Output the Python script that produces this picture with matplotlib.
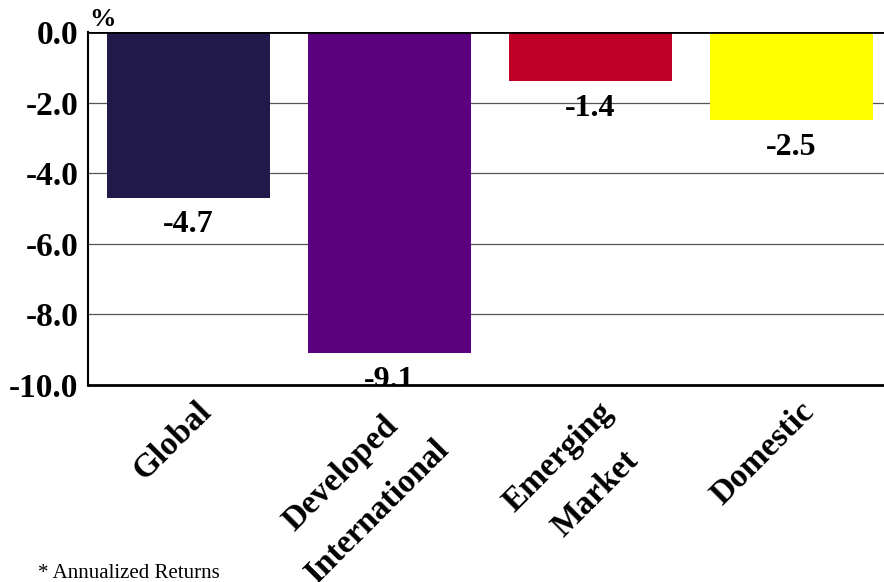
import matplotlib.pyplot as plt
from matplotlib.transforms import offset_copy

# Data
categories = ["Global", "Developed\nInternational", "Emerging\nMarket", "Domestic"]
returns = [-4.7, -9.1, -1.4, -2.5]
bar_colors = ["#21194a", "#5b007f", "#be0026", "#ffff00"]
y_ticks = [0.0, -2.0, -4.0, -6.0, -8.0, -10.0]

plt.rcParams['font.family'] = ['Liberation Serif', 'DejaVu Serif']

fig = plt.figure(figsize=(8.84, 5.82), dpi=100)
ax = fig.add_axes([0.0995, 0.3385, 0.9005, 0.6065])

x = list(range(len(categories)))
ax.bar(x, returns, width=0.81, color=bar_colors, zorder=2)

# Gridlines
for t in y_ticks[1:-1]:
    ax.axhline(t, color="#555555", linewidth=0.9, zorder=1)
ax.axhline(0, color="black", linewidth=2, zorder=3)

ax.set_ylim(-10, 0)
ax.set_xlim(-0.5, 3.46)
ax.set_yticks(y_ticks)
ax.set_yticklabels([f"{t:.1f}" for t in y_ticks], fontsize=24, fontweight='bold')
ax.tick_params(axis='y', length=0, pad=7)
ax.tick_params(axis='x', length=0)
ax.set_xticks([])

for side in ['top', 'right']:
    ax.spines[side].set_visible(False)
ax.spines['left'].set_linewidth(1.5)
ax.spines['bottom'].set_linewidth(2)
ax.spines['bottom'].set_zorder(5)

# Value labels under the bars (clipped by the axes like the original)
below = offset_copy(ax.transData, fig=fig, y=-9, units='points')
for xi, v in zip(x, returns):
    ax.text(xi, v, f"{v:.1f}", transform=below, ha='center', va='top',
            fontsize=23, fontweight='bold', zorder=4, clip_on=True)

# Rotated category labels
for xi, lab in zip(x, categories):
    ax.annotate(lab, (xi, -10), xytext=(5, -8), textcoords='offset points',
                ha='right', va='top', rotation=45, rotation_mode='anchor',
                multialignment='center', fontsize=24, fontweight='bold',
                linespacing=1.9, annotation_clip=False)

fig.text(0.1015, 0.947, "%", fontsize=19, fontweight='bold', ha='left', va='bottom')
fig.text(0.043, -0.002, "* Annualized Returns", fontsize=15, ha='left', va='bottom')

fig.savefig("out.png", dpi=100)
